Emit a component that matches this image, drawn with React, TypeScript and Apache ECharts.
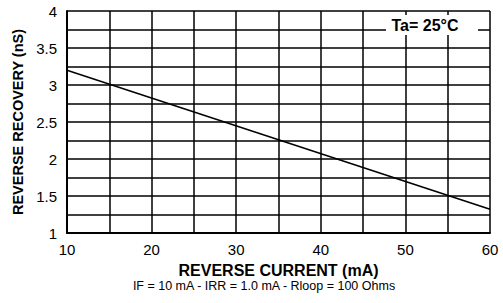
import React, { useEffect, useRef } from "react";
import * as echarts from "echarts";

const lineX = [10, 60];
const lineY = [3.2, 1.32];
const xMin = 10, xMax = 60, xStep = 5;
const yMin = 1, yMax = 4, yStep = 0.25;
const xTitle = "REVERSE CURRENT (mA)";
const yTitle = "REVERSE RECOVERY (nS)";
const noteText = "IF = 10 mA - IRR = 1.0 mA - Rloop = 100 Ohms";
const tempText = "Ta= 25°C";

export default function App() {
  const ref = useRef<HTMLDivElement>(null);
  useEffect(() => {
    const chart = echarts.init(ref.current!, null, { renderer: "svg" });
    const font = "'Liberation Sans', Arial, sans-serif";
    chart.setOption({
      animation: false,
      backgroundColor: "#fff",
      grid: { left: 67, right: 13, top: 11, bottom: 70, containLabel: false },
      xAxis: {
        type: "value", min: xMin, max: xMax, interval: xStep,
        axisLine: { show: true, lineStyle: { color: "#000", width: 2 } },
        axisTick: { show: false },
        splitLine: { show: true, lineStyle: { color: "#000", width: 1.5 } },
        axisLabel: {
          color: "#000", fontSize: 15, fontFamily: font, margin: 9,
          formatter: (v: number) => (v % 10 === 0 ? String(v) : ""),
        },
        name: xTitle, nameLocation: "middle", nameGap: 29,
        nameTextStyle: { color: "#000", fontSize: 16, fontWeight: "bold", fontFamily: font },
      },
      yAxis: {
        type: "value", min: yMin, max: yMax, interval: yStep,
        axisLine: { show: true, lineStyle: { color: "#000", width: 2 } },
        axisTick: { show: false },
        splitLine: { show: true, lineStyle: { color: "#000", width: 1.5 } },
        axisLabel: {
          color: "#000", fontSize: 15, fontFamily: font, margin: 10,
          formatter: (v: number) => (Math.abs(v * 2 - Math.round(v * 2)) < 1e-9 ? String(v) : ""),
        },
        name: yTitle, nameLocation: "middle", nameGap: 38, nameRotate: 90,
        nameTextStyle: { color: "#000", fontSize: 14.5, fontWeight: "bold", fontFamily: font },
      },
      series: [
        {
          type: "line",
          data: lineX.map((x, i) => [x, lineY[i]]),
          showSymbol: false,
          lineStyle: { color: "#000", width: 1.5 },
        },
      ],
      graphic: [
        {
          type: "rect", shape: { x: 386, y: 15, width: 92, height: 20 },
          style: { fill: "#fff" }, z: 100,
        },
        {
          type: "text", x: 425, y: 25, z: 101,
          style: {
            text: tempText, fill: "#000", font: `bold 16px ${font}`,
            textAlign: "center", textVerticalAlign: "middle",
          },
        },
        {
          type: "text", x: 264, y: 286, z: 101,
          style: {
            text: noteText, fill: "#000", font: `12.5px ${font}`,
            textAlign: "center", textVerticalAlign: "middle",
          },
        },
      ],
    });
    return () => chart.dispose();
  }, []);
  return (
    <div
      ref={ref}
      style={{ position: "fixed", left: 0, top: 0, width: 503, height: 303, background: "#fff" }}
    />
  );
}
